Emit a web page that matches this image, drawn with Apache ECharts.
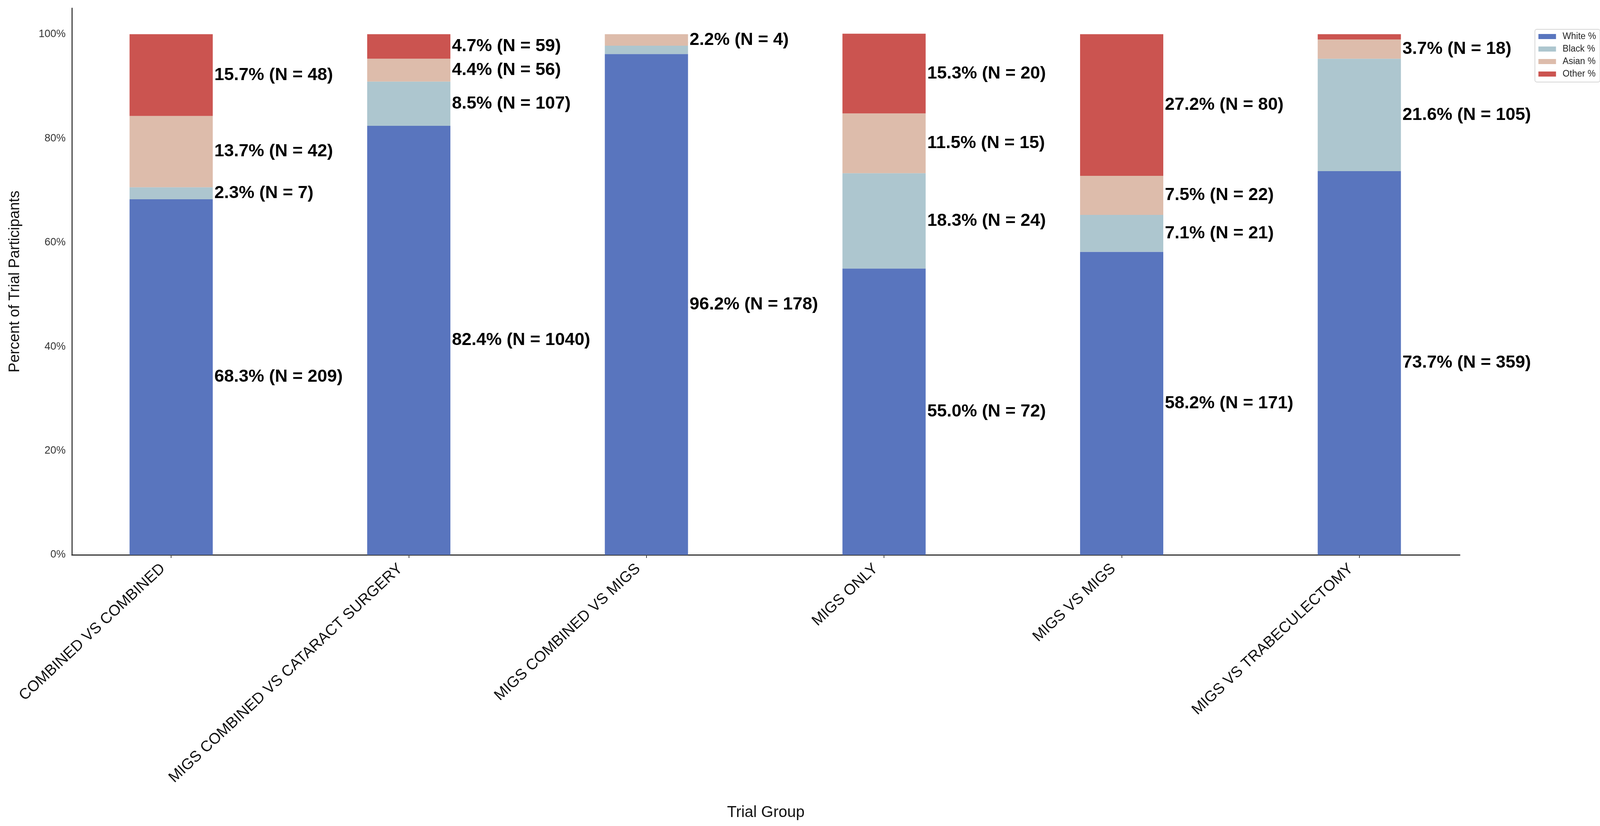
<!DOCTYPE html>
<html><head><meta charset="utf-8">
<script src="https://cdn.jsdelivr.net/npm/echarts@6/dist/echarts.min.js"></script>
<style>html,body{margin:0;padding:0;background:#fff}#c{width:4114px;height:2114px}</style>
</head><body><div id="c"></div>
<script>
const categories = ['COMBINED VS COMBINED','MIGS COMBINED VS CATARACT SURGERY','MIGS COMBINED VS MIGS','MIGS ONLY','MIGS VS MIGS','MIGS VS TRABECULECTOMY'];
const seriesNames = ['White %','Black %','Asian %','Other %'];
const whitePct = [68.3, 82.4, 96.2, 55.0, 58.2, 73.7];
const blackPct = [2.3, 8.5, 1.6, 18.3, 7.1, 21.6];
const asianPct = [13.7, 4.4, 2.2, 11.5, 7.5, 3.7];
const otherPct = [15.7, 4.7, 0.0, 15.3, 27.2, 1.0];
const whiteN = [209, 1040, 178, 72, 171, 359];
const blackN = [7, 107, 3, 24, 21, 105];
const asianN = [42, 56, 4, 15, 22, 18];
const otherN = [48, 59, 0, 20, 80, 5];
const yTickLabels = ['0%','20%','40%','60%','80%','100%'];

const FONT = "'Liberation Sans', Arial, sans-serif";
const colors = ['#5975be', '#adc6cf', '#ddbcab', '#cb5450'];
const pcts = [whitePct, blackPct, asianPct, otherPct];
const ns = [whiteN, blackN, asianN, otherN];

const series = seriesNames.map((name, k) => ({
  name, type: 'bar', stack: 'total', xAxisIndex: 1, yAxisIndex: 1,
  barWidth: 213,
  itemStyle: { color: colors[k] },
  emphasis: { disabled: true },
  label: {
    show: true, position: 'right', distance: 4,
    fontFamily: FONT, fontSize: 45, fontWeight: 'bold', color: '#000',
    formatter: p => p.value.toFixed(1) + '% (N = ' + ns[k][p.dataIndex] + ')'
  },
  data: pcts[k].map(v => ({ value: v, label: { show: v > 2 } }))
}));

const chart = echarts.init(document.getElementById('c'), null, { renderer: 'canvas' });
chart.setOption({
  backgroundColor: '#fff',
  animation: false,
  textStyle: { fontFamily: FONT },
  legend: {
    data: seriesNames, orient: 'vertical', right: 18, top: 75,
    icon: 'rect', itemWidth: 45, itemHeight: 13, itemGap: 9,
    padding: [7, 10, 9, 9],
    borderColor: '#d6d6d6', borderWidth: 2, borderRadius: 5,
    textStyle: { fontFamily: FONT, fontSize: 23, color: '#222', padding: [0, 0, 0, 12] }
  },
  grid: [
    { left: 184, right: 377, top: 21, bottom: 694 },
    { left: 134, right: 330, top: 21, bottom: 694 }
  ],
  xAxis: [
    { gridIndex: 0, type: 'value', min: 0, max: 1,
      axisLine: { show: true, lineStyle: { color: '#333', width: 3 } },
      axisTick: { show: false }, axisLabel: { show: false }, splitLine: { show: false },
      name: 'Trial Group', nameLocation: 'middle', nameGap: 640,
      nameTextStyle: { fontFamily: FONT, fontSize: 40, color: '#111' } },
    { gridIndex: 1, type: 'category', data: categories,
      axisLine: { show: false },
      axisTick: { show: true, alignWithLabel: true, length: 8, lineStyle: { color: '#444', width: 2 } },
      axisLabel: { interval: 0, rotate: 43, fontFamily: FONT, fontSize: 39, color: '#111', margin: 10, padding: [0, 29, 0, 0] },
      splitLine: { show: false } }
  ],
  yAxis: [
    { gridIndex: 0, type: 'value', min: 0, max: 105, interval: 20,
      axisLine: { show: true, lineStyle: { color: '#444', width: 3 } },
      axisTick: { show: false }, splitLine: { show: false },
      axisLabel: { fontFamily: FONT, fontSize: 27, color: '#333', margin: 16,
        formatter: v => (v % 20 === 0 && v <= 100) ? yTickLabels[v / 20] : '' },
      name: 'Percent of Trial Participants', nameLocation: 'middle', nameGap: 126, nameRotate: 90,
      nameTextStyle: { fontFamily: FONT, fontSize: 38, color: '#111' } },
    { gridIndex: 1, type: 'value', min: 0, max: 105, show: false }
  ],
  series
});
</script></body></html>
